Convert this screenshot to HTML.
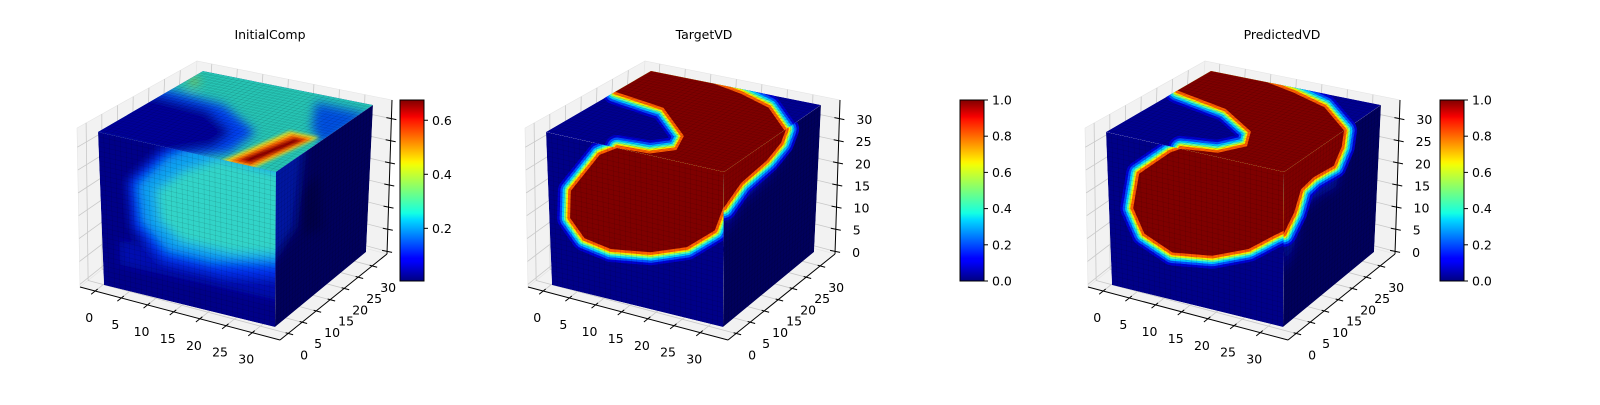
<!DOCTYPE html>
<html><head><meta charset="utf-8"><style>
html,body{margin:0;padding:0;background:#fff;}
svg text{font-family:"DejaVu Sans","Liberation Sans",sans-serif;font-size:12.5px;fill:#000;}
</style></head><body>
<svg id="fig" xmlns="http://www.w3.org/2000/svg" width="1600" height="400" viewBox="0 0 1600 400">
<defs>
<linearGradient id="jet" x1="0" y1="1" x2="0" y2="0">
<stop offset="0" stop-color="#000080"/><stop offset="0.11" stop-color="#0000ff"/><stop offset="0.125" stop-color="#0000ff"/>
<stop offset="0.34" stop-color="#00dbff"/><stop offset="0.375" stop-color="#14ffe3"/><stop offset="0.5" stop-color="#7aff7a"/>
<stop offset="0.64" stop-color="#f0ff08"/><stop offset="0.66" stop-color="#fff200"/><stop offset="0.89" stop-color="#ff1300"/>
<stop offset="0.91" stop-color="#f50000"/><stop offset="1" stop-color="#800000"/>
</linearGradient>
<filter id="blur" x="-50%" y="-50%" width="200%" height="200%"><feGaussianBlur stdDeviation="5"/></filter>
<filter id="blurS" x="-50%" y="-50%" width="200%" height="200%"><feGaussianBlur stdDeviation="1.6"/></filter>
</defs>
</svg>
<script>
// ---- data ----
const xTicks = [0,5,10,15,20,25,30];
const yTicks = [0,5,10,15,20,25,30];
const zTicks = [0,5,10,15,20,25,30];
const axisRange = [-2.9, 35.3];
const zRange = [-0.6, 34.2];
const titles = ["InitialComp","TargetVD","PredictedVD"];
const cbTicks1 = [0.2,0.4,0.6];
const cbRange1 = [0.005,0.675];
const cbTicks23 = [0.0,0.2,0.4,0.6,0.8,1.0];
const cbRange23 = [0.0,1.0];
// region outlines in face-local (u,v) coords
const p2Front = [[0.40,0],[0.30,0.07],[0.13,0.35],[0.12,0.53],[0.2,0.64],[0.35,0.67],[0.58,0.63],[0.79,0.54],[0.95,0.39],[1,0.22],[1,0]];
const p2Top = [[0,0],[0.37,0],[0.56,0.056],[0.78,0.153],[1,0.377],[1,1],[0.4,1],[0.57,0.98],[0.66,0.87],[0.6,0.69],[0.32,0.41],[0,0.34]];
const p2Right = [[0,0],[0.64,0],[0.59,0.07],[0.45,0.12],[0.18,0.15],[0,0.23]];
const p3Front = [[0.42,0],[0.36,0.04],[0.18,0.225],[0.14,0.46],[0.2,0.61],[0.36,0.69],[0.59,0.65],[0.8,0.55],[0.95,0.42],[1,0.38],[1,0]];
const p3Top = [[0,0],[0.33,0],[0.52,0.06],[0.76,0.16],[1,0.38],[1,1],[0.42,1],[0.6,0.95],[0.68,0.8],[0.6,0.62],[0.34,0.42],[0,0.32]];
const p3Right = [[0,0],[0.62,0],[0.6,0.1],[0.52,0.19],[0.31,0.17],[0.18,0.19],[0.11,0.31],[0,0.4]];

// ---- geometry ----
const NS = "http://www.w3.org/2000/svg";
const svg = document.getElementById('fig');
function mk(tag, attrs, parent, name, inter){
  const e = document.createElementNS(NS, tag);
  for (const k in attrs) e.setAttribute(k, attrs[k]);
  
  
  parent.appendChild(e);
  return e;
}
const BOX = {
  '000':[80,287],'100':[280,340],'010':[187,201],'110':[387,254],
  '001':[77,128],'101':[282,184],'011':[197,61],'111':[392,100]
};
function lerp(a,b,t){return [a[0]+(b[0]-a[0])*t, a[1]+(b[1]-a[1])*t];}
function proj(x,y,z,dx){
  const fx=(x-axisRange[0])/(axisRange[1]-axisRange[0]);
  const fy=(y-axisRange[0])/(axisRange[1]-axisRange[0]);
  const fz=(z-zRange[0])/(zRange[1]-zRange[0]);
  const a=lerp(BOX['000'],BOX['100'],fx), b=lerp(BOX['010'],BOX['110'],fx);
  const c=lerp(BOX['001'],BOX['101'],fx), d=lerp(BOX['011'],BOX['111'],fx);
  const lo=lerp(a,b,fy), hi=lerp(c,d,fy);
  const p=lerp(lo,hi,fz);
  return [p[0]+dx,p[1]];
}
const D=[98,132],C=[276,172],B=[275,327],A=[104,285],E=[373,105],F=[366,252],G=[203,71];
const FACES = {front:[D,C,B,A], top:[G,E,C,D], right:[C,E,F,B]};
function bil(f,u,v,dx){
  const x=(1-u)*(1-v)*f[0][0]+u*(1-v)*f[1][0]+u*v*f[2][0]+(1-u)*v*f[3][0];
  const y=(1-u)*(1-v)*f[0][1]+u*(1-v)*f[1][1]+u*v*f[2][1]+(1-u)*v*f[3][1];
  return [x+dx,y];
}
function pathOf(f,pts,dx){
  return 'M'+pts.map(p=>bil(f,p[0],p[1],dx).map(n=>n.toFixed(1)).join(',')).join('L')+'Z';
}
let clipN=0;
function faceClip(f,dx){
  const id='fc'+(clipN++);
  const cp=mk('clipPath',{id:id},svg.querySelector('defs'),'face-clip',false);
  mk('path',{d:pathOf(f,[[0,0],[1,0],[1,1],[0,1]],dx)},cp,'face-clip-shape',false);
  return id;
}

function drawAxes(g,dx,showZLabels){
  const pane = mk('g',{},g,'axis-panes',false);
  const P=(x,y,z)=>proj(x,y,z,dx);
  const lo=axisRange[0],hi=axisRange[1],zl=zRange[0],zh=zRange[1];
  const poly=(pts,name)=>mk('polygon',{points:pts.map(p=>p.join(',')).join(' '),fill:'#f2f2f2',stroke:'#e4e4e4','stroke-width':0.6},pane,name,false);
  poly([P(lo,lo,zl),P(lo,lo,zh),P(lo,hi,zh),P(lo,hi,zl)],'left-pane');
  poly([P(lo,hi,zl),P(lo,hi,zh),P(hi,hi,zh),P(hi,hi,zl)],'back-pane');
  poly([P(lo,lo,zl),P(hi,lo,zl),P(hi,hi,zl),P(lo,hi,zl)],'floor-pane');
  const gl=(a,b,name)=>mk('line',{x1:a[0],y1:a[1],x2:b[0],y2:b[1],stroke:'#c8c8c8','stroke-width':0.8},pane,name,false);
  yTicks.forEach(t=>{gl(P(lo,t,zl),P(lo,t,zh),'grid-line-y-left');gl(P(lo,t,zl),P(hi,t,zl),'grid-line-y-floor');});
  xTicks.forEach(t=>{gl(P(t,hi,zl),P(t,hi,zh),'grid-line-x-back');gl(P(t,lo,zl),P(t,hi,zl),'grid-line-x-floor');});
  zTicks.forEach(t=>{gl(P(lo,lo,t),P(lo,hi,t),'grid-line-z-left');gl(P(lo,hi,t),P(hi,hi,t),'grid-line-z-back');});
  const ax=mk('g',{},g,'axis-lines',false);
  const L=(a,b,name)=>mk('line',{x1:a[0],y1:a[1],x2:b[0],y2:b[1],stroke:'#000','stroke-width':1},ax,name,false);
  L(P(lo,lo,zl),P(hi,lo,zl),'x-axis-line');
  L(P(hi,lo,zl),P(hi,hi,zl),'y-axis-line');
  L(P(hi,hi,zl),P(hi,hi,zh),'z-axis-line');
  xTicks.forEach(t=>{const p=P(t,lo,zl);L([p[0]+2.5,p[1]-2],[p[0]-4,p[1]+3.2],'x-tick');
    const tx=mk('text',{x:p[0]-6,y:p[1]+31,'text-anchor':'middle'},ax,'x-tick-label',false);tx.textContent=t;});
  yTicks.forEach(t=>{const p=P(hi,t,zl);L([p[0]-2.5,p[1]-0.7],[p[0]+5,p[1]+1.3],'y-tick');
    const tx=mk('text',{x:p[0]+16,y:p[1]+26,'text-anchor':'middle'},ax,'y-tick-label',false);tx.textContent=t;});
  zTicks.forEach(t=>{const p=P(hi,hi,t);L([p[0]-5,p[1]-1],[p[0]+5,p[1]+1],'z-tick');
    if(showZLabels){const tx=mk('text',{x:p[0]+17,y:p[1]+5.5,'text-anchor':'start'},ax,'z-tick-label',false);tx.textContent=t;}});
}

function voxelGrid(g,f,dx){
  const n=32;
  for(let i=1;i<n;i++){
    const a=bil(f,i/n,0,dx),b=bil(f,i/n,1,dx),c=bil(f,0,i/n,dx),d=bil(f,1,i/n,dx);
    mk('line',{x1:a[0],y1:a[1],x2:b[0],y2:b[1],stroke:'rgba(0,0,0,0.16)','stroke-width':0.5},g,'voxel-edge',false);
    mk('line',{x1:c[0],y1:c[1],x2:d[0],y2:d[1],stroke:'rgba(0,0,0,0.16)','stroke-width':0.5},g,'voxel-edge',false);
  }
}

function ringRegion(g,f,pts,dx,name){
  const d=pathOf(f,pts,dx);
  const layers=[['#0000d0',26],['#0050ff',21],['#00c8ff',16.5],['#60ffa0',12.5],['#f0f000',9],['#ff6000',5.5]];
  layers.forEach(l=>mk('path',{d:d,fill:'none',stroke:l[0],'stroke-width':l[1],'stroke-linejoin':'round'},g,name+'-ring',false));
  mk('path',{d:d,fill:'#7f0000',stroke:'none'},g,name,false);
}

function drawCube(g,dx,kind){
  const faceColors={front:'#000088',top:'#000090',right:'#00005c'};
  ['top','front','right'].forEach(fn=>{
    const f=FACES[fn];
    const id=faceClip(f,dx);
    const fg=mk('g',{'clip-path':'url(#'+id+')'},g,'cube-'+fn+'-face',false);
    mk('path',{d:pathOf(f,[[0,0],[1,0],[1,1],[0,1]],dx),fill:faceColors[fn]},fg,'face-base',false);
    if(kind===1){
      if(fn==='top'){
        mk('path',{d:pathOf(f,[[0,0],[1,0],[1,1],[0,1]],dx),fill:'#26c4b4'},fg,'face-base',false);
        const bl=mk('g',{filter:'url(#blur)'},fg,'blue-region',false);
        mk('path',{d:pathOf(f,[[-0.1,0.3],[0.34,0.36],[0.66,0.6],[0.68,0.9],[0.5,1.1],[-0.1,1.1]],dx),fill:'#0040f0'},bl,'blue-halo',false);
        mk('path',{d:pathOf(f,[[-0.1,0.4],[0.3,0.45],[0.56,0.66],[0.58,0.88],[0.42,1.1],[-0.1,1.1]],dx),fill:'#000098'},bl,'blue-core',false);
        mk('path',{d:pathOf(f,[[0.72,0.1],[1.05,0.12],[1.05,0.6],[0.88,0.42]],dx),fill:'#0050e0'},bl,'blue-haze',false);
        mk('circle',{cx:bil(f,0.04,0.15,dx)[0],cy:bil(f,0.04,0.15,dx)[1],r:4,fill:'#c0c020'},bl,'yellow-spot',false);
        const bar=mk('g',{filter:'url(#blurS)'},fg,'hot-bar',false);
        mk('path',{d:pathOf(f,[[0.7,1.02],[0.88,1.02],[0.97,0.5],[0.8,0.5]],dx),fill:'#e8e020'},bar,'bar-outer',false);
        mk('path',{d:pathOf(f,[[0.73,1.0],[0.86,1.0],[0.95,0.53],[0.83,0.53]],dx),fill:'#ff6000'},bar,'bar-mid',false);
        mk('path',{d:pathOf(f,[[0.76,0.97],[0.84,0.97],[0.93,0.56],[0.86,0.56]],dx),fill:'#d00000'},bar,'bar-inner',false);
        mk('path',{d:pathOf(f,[[0.78,0.95],[0.83,0.95],[0.91,0.58],[0.87,0.58]],dx),fill:'#800000'},bar,'bar-core',false);
      } else if(fn==='front'){
        const bl=mk('g',{filter:'url(#blur)'},fg,'cyan-region',false);
        mk('path',{d:pathOf(f,[[0.1,0.68],[1.1,0.62],[1.1,0.82],[0.1,0.84]],dx),fill:'#000cb0'},bl,'blue-band',false);
        mk('path',{d:pathOf(f,[[0.36,0.02],[0.16,0.28],[0.18,0.58],[0.35,0.75],[0.7,0.75],[1.1,0.66],[1.1,-0.1],[0.55,-0.1]],dx),fill:'#0030f0'},bl,'blue-halo',false);
        mk('path',{d:pathOf(f,[[0.4,0.06],[0.22,0.29],[0.24,0.52],[0.38,0.67],[0.64,0.67],[1.1,0.56],[1.1,-0.1],[0.62,-0.1]],dx),fill:'#0aa0f0'},bl,'cyan-halo',false);
        mk('path',{d:pathOf(f,[[0.48,0.13],[0.32,0.3],[0.34,0.49],[0.46,0.59],[0.75,0.59],[1.1,0.5],[1.1,0.0],[0.68,0.0]],dx),fill:'#30d4c8'},bl,'cyan-core',false);
      } else {
        const bl=mk('g',{filter:'url(#blur)'},fg,'right-haze',false);
        mk('path',{d:pathOf(f,[[-0.1,-0.1],[0.3,-0.1],[0.2,0.45],[-0.1,0.6]],dx),fill:'#0014a0'},bl,'blue-haze',false);
        mk('path',{d:pathOf(f,[[0.25,0.25],[0.45,0.2],[0.5,0.6],[0.3,0.55]],dx),fill:'#00004a'},bl,'dark-blob',false);
      }
    } else {
      const pts = kind===2 ? {front:p2Front,top:p2Top,right:p2Right}[fn] : {front:p3Front,top:p3Top,right:p3Right}[fn];
      if(fn==='right'){
        const bl=mk('g',{filter:'url(#blur)'},fg,'right-haze',false);
        mk('path',{d:pathOf(f,pts.map(p=>[p[0]*1.05,p[1]*1.5+0.06]),dx),fill:'#0010a0'},bl,'blue-haze',false);
      }
      ringRegion(fg,f,pts,dx,'volume-region-'+fn);
    }
    voxelGrid(fg,f,dx);
  });
}

function drawColorbar(g,x,ticks,range,fmt){
  const y0=100,y1=281,w=24;
  mk('rect',{x:x,y:y0,width:w,height:y1-y0,fill:'url(#jet)',stroke:'#000','stroke-width':1},g,'colorbar',false);
  const sy=v=>y1-(v-range[0])/(range[1]-range[0])*(y1-y0);
  ticks.forEach(t=>{
    const y=sy(t);
    mk('line',{x1:x+w,y1:y,x2:x+w+4,y2:y,stroke:'#000','stroke-width':1},g,'colorbar-tick',false);
    const tx=mk('text',{x:x+w+8,y:y+4.5},g,'colorbar-tick-label',false);
    tx.textContent=t.toFixed(fmt);
  });
}

const panels=[
  {dx:0,kind:1,title:titles[0],tx:270,cb:400,ticks:cbTicks1,range:cbRange1,z:false},
  {dx:448,kind:2,title:titles[1],tx:704,cb:960,ticks:cbTicks23,range:cbRange23,z:true},
  {dx:1008,kind:3,title:titles[2],tx:1282,cb:1440,ticks:cbTicks23,range:cbRange23,z:true}
];
panels.forEach((p,i)=>{
  const g=mk('g',{},svg,'subplot-'+p.title.toLowerCase(),false);
  drawAxes(g,p.dx,p.z);
  drawCube(g,p.dx,p.kind);
  const cbg=mk('g',{},g,'colorbar-group',false);
  drawColorbar(cbg,p.cb,p.ticks,p.range,1);
  const t=mk('text',{x:p.tx,y:39,'text-anchor':'middle'},g,'plot-title',false);
  t.textContent=p.title;
});
</script>
</body></html>
